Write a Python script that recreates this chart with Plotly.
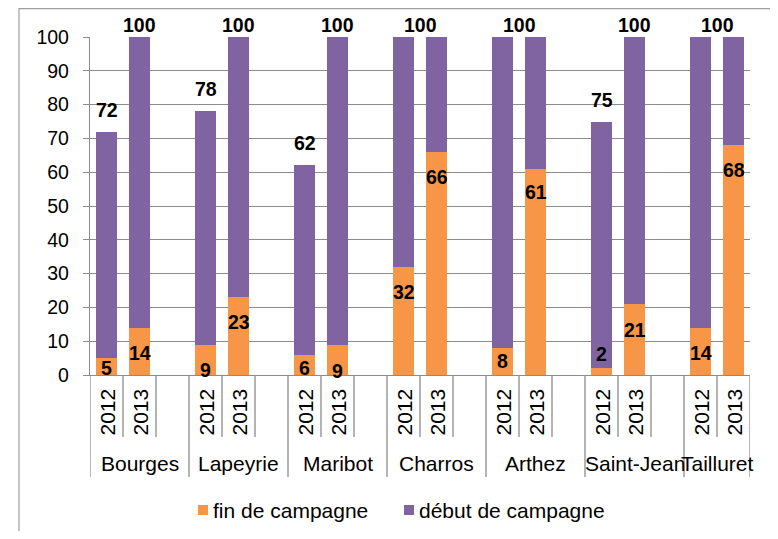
import plotly.graph_objects as go

# ---------------- data ----------------
sites = ["Bourges", "Lapeyrie", "Maribot", "Charros", "Arthez", "Saint-Jean", "Tailluret"]
years = ["2012", "2013"]
fin_2012 = [5, 9, 6, 32, 8, 2, 14]
fin_2013 = [14, 23, 9, 66, 61, 21, 68]
debut_2012 = [72, 78, 62, 100, 100, 75, 100]
debut_2013 = [100, 100, 100, 100, 100, 100, 100]
y_ticks = list(range(0, 101, 10))
series_names = ["fin de campagne", "début de campagne"]

# ---------------- style ----------------
ORANGE = "#F79646"
PURPLE = "#8064A2"
GRID = "#8C8C8C"
FONT = "Arial, 'Liberation Sans', sans-serif"
OFF = 8                      # default page body margin
PAGE_W, PAGE_H = 778, 539
# plot area in page pixels
PX0, PX1, PY0, PY1 = 90, 750, 37, 375
W, H = PAGE_W - OFF, PAGE_H - 2 * OFF
ML, MT = PX0 - OFF, PY0 - OFF
MR, MB = OFF + W - PX1, OFF + H - PY1
PW, PH = PX1 - PX0, PY1 - PY0

# label offsets in px (style only)
fin_off_2012 = [-10, -25, -13, -25, -13, 14, -25]
fin_off_2013 = [-25, -25, -26, -25, -23, -26, -25]


def px_x(p):
    return (p - PX0) / PW


def px_y(p):
    return (PY1 - p) / PH


# slot layout: 3 slots per site (2012, 2013, blank), last site has 2
slot_x, fin_vals, debut_vals, year_lab = [], [], [], []
for i in range(len(sites)):
    for j, yr in enumerate(years):
        slot_x.append(3 * i + j)
        fin_vals.append([fin_2012, fin_2013][j][i])
        debut_vals.append([debut_2012, debut_2013][j][i])
        year_lab.append(yr)
n_slots = 3 * len(sites) - 1
hover = [f"{sites[s // 3]} {year_lab[k]}" for k, s in enumerate(slot_x)]

fig = go.Figure()
fig.add_trace(go.Bar(x=slot_x, y=debut_vals, name=series_names[1], marker_color=PURPLE,
                     marker_line_width=0, width=0.66, opacity=1, showlegend=False,
                     hovertext=hover))
fig.add_trace(go.Bar(x=slot_x, y=fin_vals, name=series_names[0], marker_color=ORANGE,
                     marker_line_width=0, width=0.66, opacity=1, showlegend=False,
                     hovertext=hover))

annotations = []
shapes = []
LBL = 19.5

# data labels: fin
for i in range(len(sites)):
    for j in range(2):
        v = [fin_2012, fin_2013][j][i]
        off = [fin_off_2012, fin_off_2013][j][i]
        annotations.append(dict(x=3 * i + j, y=v, xref="x", yref="y", text=f"<b>{v}</b>",
                                showarrow=False, yshift=off, yanchor="middle",
                                font=dict(family=FONT, size=LBL, color="black")))
# data labels: début
for i in range(len(sites)):
    d12, d13 = debut_2012[i], debut_2013[i]
    if d12 == 100 and d13 == 100:
        annotations.append(dict(x=3 * i + 0.5, y=100, xref="x", yref="y", text="<b>100</b>",
                                showarrow=False, yshift=12, yanchor="middle",
                                font=dict(family=FONT, size=LBL, color="black")))
    else:
        for j, v in enumerate([d12, d13]):
            annotations.append(dict(x=3 * i + j, y=v, xref="x", yref="y", text=f"<b>{v}</b>",
                                    showarrow=False, yshift=12 if v == 100 else 22,
                                    yanchor="middle",
                                    font=dict(family=FONT, size=LBL, color="black")))

# year labels (rotated)
for k, s in enumerate(slot_x):
    annotations.append(dict(x=s, y=px_y(412), xref="x", yref="paper", text=year_lab[k],
                            showarrow=False, textangle=-90, xanchor="center", yanchor="middle",
                            font=dict(family=FONT, size=21, color="black")))
# site labels
for i, s in enumerate(sites):
    last = i == len(sites) - 1
    cx = 3 * i + (0.5 if last else 1)
    annotations.append(dict(x=cx, y=px_y(463), xref="x", yref="paper", text=s,
                            showarrow=False, xanchor="center", yanchor="middle",
                            font=dict(family=FONT, size=21, color="black")))

# dividers under the axis
for b in range(n_slots + 1):
    edge = b - 0.5
    long_div = (b % 3 == 0) or b == n_slots
    shapes.append(dict(type="line", xref="x", yref="paper", x0=edge, x1=edge, y0=0,
                       y1=px_y(477) if long_div else px_y(437),
                       line=dict(color=GRID, width=1.3)))

# manual legend
leg = [(series_names[0], ORANGE, 198), (series_names[1], PURPLE, 404)]
for name, col, x0 in leg:
    shapes.append(dict(type="rect", xref="paper", yref="paper", x0=px_x(x0), x1=px_x(x0 + 10),
                       y0=px_y(515), y1=px_y(505), fillcolor=col, line=dict(width=0)))
    annotations.append(dict(x=px_x(x0 + 13), y=px_y(510), xref="paper", yref="paper", text=name,
                            showarrow=False, xanchor="left", yanchor="middle",
                            font=dict(family=FONT, size=21, color="black")))

# outer border
shapes.append(dict(type="rect", xref="paper", yref="paper", x0=px_x(19), x1=px_x(776.5),
                   y0=px_y(600), y1=px_y(8.6), line=dict(color="#A0A0A0", width=1.2),
                   fillcolor="rgba(0,0,0,0)", layer="below"))

fig.update_layout(
    width=W, height=H, autosize=False,
    margin=dict(l=ML, r=MR, t=MT, b=MB, pad=0),
    paper_bgcolor="white", plot_bgcolor="white",
    barmode="overlay", bargap=0,
    showlegend=False,
    font=dict(family=FONT, size=19, color="black"),
    annotations=annotations, shapes=shapes,
    xaxis=dict(range=[-0.5, n_slots - 0.5], showticklabels=False, showgrid=False,
               zeroline=False, showline=True, linecolor=GRID, linewidth=1.3, ticks="",
               fixedrange=True),
    yaxis=dict(range=[0, 100], tickvals=y_ticks, showgrid=True, gridcolor=GRID, gridwidth=1.3,
               zeroline=False, showline=True, linecolor=GRID, linewidth=1.3,
               ticks="outside", ticklen=6, tickcolor=GRID, tickwidth=1.3,
               ticklabelstandoff=10, tickfont=dict(family=FONT, size=19.5, color="black"),
               fixedrange=True),
)

fig.write_html("out.html")
